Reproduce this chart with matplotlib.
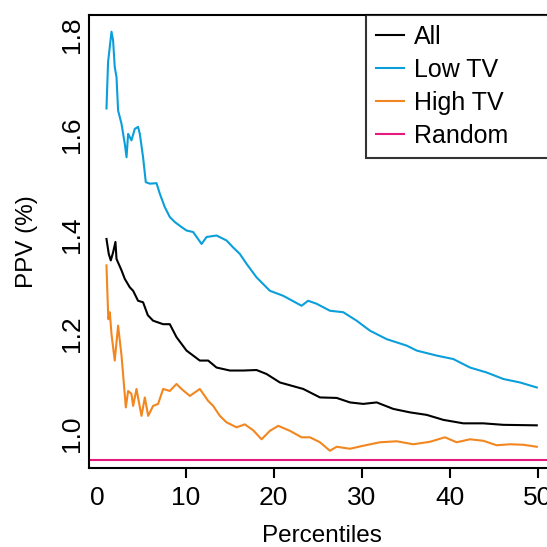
import numpy as np
import matplotlib
matplotlib.use('Agg')
import matplotlib.pyplot as plt

plt.rcParams['font.family'] = ['Liberation Sans', 'DejaVu Sans']

""" Data (read off the picture) """
x_low = [0.99, 1.17, 1.56, 1.74, 1.93, 2.13, 2.31, 2.70, 3.07, 3.27, 3.45, 3.83, 4.21, 4.58,
         4.78, 5.15, 5.46, 5.92, 6.68, 7.05, 7.62, 8.19, 8.76, 9.52, 10.09, 10.84, 11.80,
         12.37, 13.50, 14.64, 15.39, 16.15, 16.92, 18.05, 19.57, 21.08, 23.17, 23.92, 24.88,
         26.39, 27.91, 29.43, 30.94, 32.84, 35.12, 36.26, 38.53, 40.42, 42.32, 44.22, 46.11,
         48.01, 49.91]
ppv_low = [1.653, 1.746, 1.807, 1.790, 1.736, 1.716, 1.649, 1.622, 1.582, 1.555, 1.602, 1.589,
           1.612, 1.616, 1.602, 1.555, 1.505, 1.502, 1.503, 1.482, 1.455, 1.435, 1.425, 1.415,
           1.408, 1.405, 1.381, 1.395, 1.398, 1.388, 1.374, 1.361, 1.341, 1.314, 1.287, 1.277,
           1.257, 1.267, 1.261, 1.247, 1.244, 1.227, 1.207, 1.190, 1.177, 1.167, 1.157, 1.150,
           1.133, 1.123, 1.110, 1.103, 1.093]

x_all = [0.99, 1.25, 1.48, 1.74, 2.01, 2.13, 2.70, 3.07, 3.64, 4.02, 4.58, 5.15, 5.69, 6.29,
         7.43, 8.19, 8.95, 10.09, 11.60, 12.55, 13.50, 15.02, 16.53, 18.05, 19.19, 20.71,
         23.36, 25.26, 27.16, 28.67, 30.18, 31.71, 33.59, 35.49, 37.39, 39.28, 41.56, 43.83,
         46.11, 49.91]
ppv_all = [1.391, 1.361, 1.348, 1.364, 1.385, 1.351, 1.328, 1.311, 1.294, 1.287, 1.267, 1.264,
           1.238, 1.227, 1.220, 1.220, 1.194, 1.167, 1.147, 1.147, 1.133, 1.127, 1.127, 1.128,
           1.120, 1.103, 1.090, 1.073, 1.072, 1.063, 1.060, 1.063, 1.050, 1.043, 1.038, 1.028,
           1.021, 1.021, 1.018, 1.017]

x_high = [0.99, 1.10, 1.20, 1.37, 1.56, 1.93, 2.31, 2.70, 3.19, 3.45, 3.83, 4.02, 4.40, 4.97,
          5.35, 5.73, 6.29, 6.86, 7.43, 8.19, 8.95, 9.52, 10.47, 11.60, 12.55, 13.12, 13.88,
          14.64, 15.78, 16.72, 17.67, 18.62, 19.57, 20.52, 21.84, 23.17, 24.12, 25.26, 26.39,
          27.16, 28.67, 30.18, 32.08, 33.98, 35.87, 37.77, 39.47, 40.80, 42.32, 43.83, 45.34,
          46.87, 48.37, 49.91]
ppv_high = [1.338, 1.280, 1.230, 1.244, 1.200, 1.147, 1.217, 1.157, 1.053, 1.086, 1.080, 1.056,
            1.090, 1.036, 1.073, 1.036, 1.056, 1.060, 1.090, 1.086, 1.100, 1.090, 1.076, 1.090,
            1.066, 1.056, 1.036, 1.023, 1.013, 1.019, 1.007, 0.989, 1.006, 1.016, 1.006, 0.993,
            0.993, 0.983, 0.966, 0.974, 0.970, 0.976, 0.983, 0.985, 0.979, 0.984, 0.993, 0.983,
            0.989, 0.986, 0.977, 0.979, 0.978, 0.974]

ppv_random = 0.947

x_ticks = [0, 10, 20, 30, 40, 50]
y_ticks = [1.0, 1.2, 1.4, 1.6, 1.8]

""" Figure """
fig = plt.figure(figsize=(5.47, 5.47), dpi=100)
ax = fig.add_axes([0.1633, 0.145, 0.851, 0.828])

ax.plot(x_all, ppv_all, color='black', lw=1.5, label='All')
ax.plot(x_low, ppv_low, color='#0A9FDB', lw=1.5, label='Low TV')
ax.plot(x_high, ppv_high, color='#F2861F', lw=1.5, label='High TV')
ax.axhline(ppv_random, color='#E6197D', lw=1.5, label='Random')

ax.set_xlim(-0.96, 51.96)
ax.set_ylim(0.932, 1.841)

ax.set_xticks(x_ticks)
ax.set_yticks(y_ticks)
ax.set_yticklabels(['%.1f' % v for v in y_ticks], rotation=90, va='center')
ax.tick_params(axis='x', length=7, width=1.5, labelsize=19, pad=6)
ax.tick_params(axis='y', length=0, labelsize=19, pad=4)
ax.xaxis.get_major_ticks()[0].tick1line.set_visible(False)

for s in ax.spines.values():
    s.set_linewidth(1.5)

ax.set_xlabel('Percentiles', fontsize=17.5, labelpad=11)
ax.set_ylabel('PPV (%)', fontsize=17.5, labelpad=16)

leg = ax.legend(loc='upper left', bbox_to_anchor=(0.5946, 0.0, 0.4054, 1.0), mode='expand',
                fontsize=18, frameon=True, fancybox=False, edgecolor='black',
                borderaxespad=0, handlelength=1.1, handletextpad=0.4, labelspacing=0.36,
                borderpad=0.4)
leg.get_frame().set_linewidth(1.5)

fig.savefig('out.png', dpi=100)
